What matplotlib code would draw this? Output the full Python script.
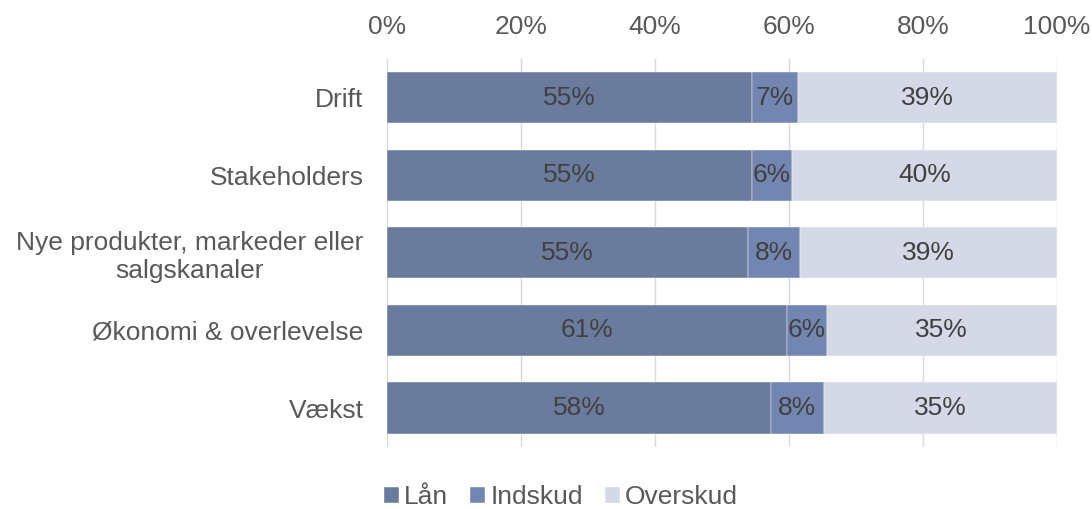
import matplotlib
matplotlib.use('Agg')
import matplotlib.pyplot as plt
import numpy as np
from matplotlib.ticker import FuncFormatter

plt.rcParams['font.family'] = ['Liberation Sans', 'DejaVu Sans']

categories = ['Drift', 'Stakeholders', 'Nye produkter, markeder eller\nsalgskanaler',
              'Økonomi & overlevelse', 'Vækst']
series = ['Lån', 'Indskud', 'Overskud']
laan = [54.4, 54.4, 53.9, 59.7, 57.3]
indskud = [6.9, 6.0, 7.8, 5.9, 7.9]
overskud = [38.7, 39.6, 38.3, 34.4, 34.8]
labels_laan = ['55%', '55%', '55%', '61%', '58%']
labels_indskud = ['7%', '6%', '8%', '6%', '8%']
labels_overskud = ['39%', '40%', '39%', '35%', '35%']

colors = ['#6b7b9e', '#7386b1', '#d4d8e7']
FS = 19

fig = plt.figure(figsize=(10.92, 5.09), dpi=100)
ax = fig.add_axes([0.3544, 0.122, 0.6136, 0.7627])

y = np.arange(len(categories))
left = np.zeros(len(categories))
vals = [laan, indskud, overskud]
labs = [labels_laan, labels_indskud, labels_overskud]
for name, v, lab, c in zip(series, vals, labs, colors):
    v = np.array(v)
    ax.barh(y, v, left=left, height=0.66, color=c, label=name, zorder=2,
            edgecolor='white', linewidth=0.3)
    for yi, (l, w, t) in enumerate(zip(left, v, lab)):
        ax.text(l + w / 2, yi, t, ha='center', va='center', fontsize=FS,
                color='#404040', zorder=3)
    left = left + v

ax.set_xlim(0, 100)
ax.set_ylim(len(categories) - 0.5, -0.5)
ax.set_xticks(np.arange(0, 101, 20))
ax.xaxis.set_major_formatter(FuncFormatter(lambda v, p: '%d%%' % v))
ax.xaxis.tick_top()
ax.set_yticks(y)
ax.set_yticklabels(categories)
ax.tick_params(axis='both', length=0, labelsize=FS, labelcolor='#595959')
ax.tick_params(axis='x', pad=14)
ax.tick_params(axis='y', pad=17)
for lbl in ax.get_yticklabels():
    lbl.set_multialignment('center')
ax.grid(axis='x', color='#d9d9d9', linewidth=1, zorder=0)
ax.set_axisbelow(True)
for s in ax.spines.values():
    s.set_visible(False)

handles, lbls = ax.get_legend_handles_labels()
fig.legend(handles, lbls, loc='center', bbox_to_anchor=(561 / 1092, 1 - 497 / 509),
           ncol=3, frameon=False, fontsize=FS, handlelength=0.55, handleheight=0.55,
           handletextpad=0.2, columnspacing=0.85, labelcolor='#595959')

fig.savefig('out.png', dpi=100)
